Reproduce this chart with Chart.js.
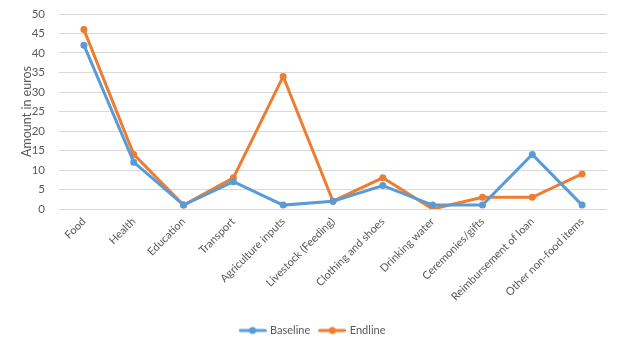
<!DOCTYPE html>
<html>
<head>
<meta charset="utf-8">
<script src="https://cdn.jsdelivr.net/npm/chart.js@4"></script>
<style>
  html, body { margin: 0; padding: 0; background: #ffffff; }
  #wrap { width: 622px; height: 347px; }
</style>
</head>
<body>
<div id="wrap"><canvas id="c" width="622" height="347"></canvas></div>
<script>
// Monthly spending per category, in euros
const categories = [
  'Food', 'Health', 'Education', 'Transport', 'Agriculture inputs',
  'Livestock (Feeding)', 'Clothing and shoes', 'Drinking water',
  'Ceremonies/gifts', 'Reimbursement of loan', 'Other non-food items'
];
const baseline = [42, 12, 1, 7, 1, 2, 6, 1, 1, 14, 1];
const endline  = [46, 14, 1, 8, 34, 2, 8, 0, 3, 3, 9];
const yTicks = [0, 5, 10, 15, 20, 25, 30, 35, 40, 45, 50];

const BLUE = '#5B9BD5';
const ORANGE = '#ED7D31';
const TEXT = '#595959';
const FONT = 'Lato, "Open Sans", sans-serif';

// Legend swatch: short line with a dot in the middle
function swatch(color) {
  const c = document.createElement('canvas');
  c.width = 28; c.height = 10;
  const g = c.getContext('2d');
  g.strokeStyle = color; g.lineWidth = 3; g.lineCap = 'round';
  g.beginPath(); g.moveTo(1.5, 5); g.lineTo(26.5, 5); g.stroke();
  g.fillStyle = color;
  g.beginPath(); g.arc(14, 5, 3.5, 0, Math.PI * 2); g.fill();
  return c;
}

new Chart(document.getElementById('c'), {
  type: 'line',
  data: {
    labels: categories,
    datasets: [
      { label: 'Baseline', data: baseline, borderColor: BLUE, backgroundColor: BLUE,
        borderWidth: 3, pointRadius: 3.5, pointBorderWidth: 0, pointHoverRadius: 3.5,
        tension: 0, legendImg: swatch(BLUE) },
      { label: 'Endline', data: endline, borderColor: ORANGE, backgroundColor: ORANGE,
        borderWidth: 3, pointRadius: 3.5, pointBorderWidth: 0, pointHoverRadius: 3.5,
        tension: 0, legendImg: swatch(ORANGE) }
    ]
  },
  options: {
    responsive: false,
    animation: false,
    layout: { padding: { top: 14, right: 15, bottom: 1, left: 19 } },
    plugins: {
      tooltip: { enabled: false },
      legend: {
        position: 'bottom',
        labels: {
          color: TEXT,
          font: { family: FONT, size: 11 },
          usePointStyle: true,
          pointStyleWidth: 24,
          padding: 10,
          generateLabels(chart) {
            return chart.data.datasets.map((ds, i) => ({
              text: ds.label,
              fillStyle: ds.borderColor,
              strokeStyle: ds.borderColor,
              lineWidth: 0,
              pointStyle: ds.legendImg,
              fontColor: TEXT,
              hidden: false,
              datasetIndex: i
            }));
          }
        }
      }
    },
    scales: {
      x: {
        offset: true,
        grid: { display: false, drawTicks: false },
        border: { display: false },
        ticks: {
          color: TEXT, font: { family: FONT, size: 11 },
          maxRotation: 45, minRotation: 45, autoSkip: false, padding: 6
        },
        afterFit(axis) { axis.height = 106; axis.paddingLeft = 0; axis.paddingRight = 0; }
      },
      y: {
        min: 0, max: 50,
        afterBuildTicks(axis) { axis.ticks = yTicks.map(v => ({ value: v })); },
        grid: { color: '#d9d9d9', lineWidth: 1, drawTicks: false },
        border: { display: false },
        ticks: { color: TEXT, font: { family: FONT, size: 11.5 }, padding: 14 },
        title: { display: true, text: 'Amount in euros', color: TEXT,
                 font: { family: FONT, size: 12.5 }, padding: { top: 0, bottom: 4 } },
        afterFit(axis) { axis.width = 40; axis.paddingTop = 0; axis.paddingBottom = 0; }
      }
    }
  }
});
</script>
</body>
</html>
